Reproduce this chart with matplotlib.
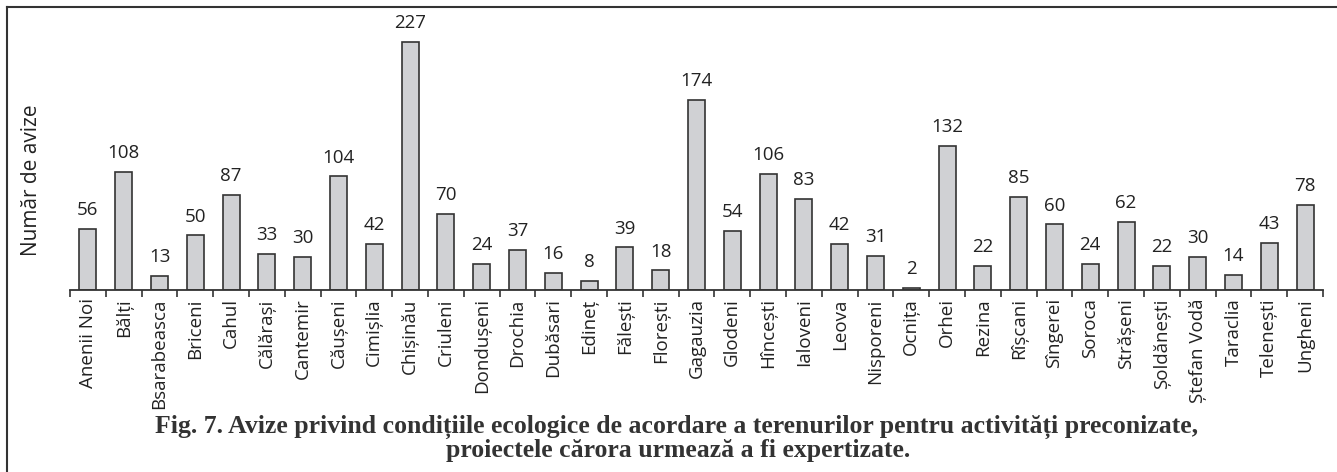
import matplotlib
matplotlib.use("Agg")
import matplotlib.pyplot as plt
from matplotlib.lines import Line2D
import numpy as np

categories = ["Anenii Noi", "Bălți", "Bsarabeasca", "Briceni", "Cahul", "Călărași",
              "Cantemir", "Căușeni", "Cimișlia", "Chișinău", "Criuleni", "Dondușeni",
              "Drochia", "Dubăsari", "Edineț", "Fălești", "Florești", "Gagauzia",
              "Glodeni", "Hîncești", "Ialoveni", "Leova", "Nisporeni", "Ocnița",
              "Orhei", "Rezina", "Rîșcani", "Sîngerei", "Soroca", "Strășeni",
              "Șoldănești", "Ștefan Vodă", "Taraclia", "Telenești", "Ungheni"]
values = [56, 108, 13, 50, 87, 33, 30, 104, 42, 227, 70, 24, 37, 16, 8, 39, 18, 174,
          54, 106, 83, 42, 31, 2, 132, 22, 85, 60, 24, 62, 22, 30, 14, 43, 78]

ylabel = "Număr de avize"
caption1 = "Fig. 7. Avize privind condițiile ecologice de acordare a terenurilor pentru activități preconizate,"
caption2 = "proiectele cărora urmează a fi expertizate."

W, H = 1337, 472
fig = plt.figure(figsize=(W / 100, H / 100), dpi=100)

n = len(categories)
left_px, right_px = 70, 1323
base_px = 290
top_val = 250
px_per_unit = (290 - 42) / 227.0
top_px = base_px - top_val * px_per_unit
ax = fig.add_axes([left_px / W, 1 - base_px / H, (right_px - left_px) / W, (base_px - top_px) / H])

x = np.arange(n)
ax.bar(x, values, width=0.48, color="#d0d1d4", edgecolor="#333333", linewidth=1.2)
ax.set_xlim(-0.5, n - 0.5)
ax.set_ylim(0, top_val)

for xi, v in zip(x, values):
    ax.text(xi, v + 9, str(v), ha="center", va="bottom", fontsize=13.5,
            family="Open Sans", color="#222222")

for s in ["top", "right", "left"]:
    ax.spines[s].set_visible(False)
ax.spines["bottom"].set_color("#333333")
ax.spines["bottom"].set_linewidth(1.3)
ax.set_yticks([])

ax.set_xticks(np.arange(-0.5, n, 1.0), minor=False)
ax.set_xticklabels([])
ax.tick_params(axis="x", which="major", direction="out", length=5, width=1.2, color="#333333")
ax.set_xticks(x, minor=True)
ax.set_xticklabels(categories, minor=True, rotation=90, fontsize=13.5,
                   family="Open Sans", color="#222222")
ax.tick_params(axis="x", which="minor", length=0, pad=6)

fig.text(32 / W, 1 - 180 / H, ylabel, rotation=90, ha="center", va="center",
         fontsize=15, family="Open Sans", color="#222222")

fig.text(677 / W, 1 - 427 / H, caption1, ha="center", va="center",
         fontsize=18.5, family="Liberation Serif", fontweight="bold", color="#333333")
fig.text(678 / W, 1 - 450 / H, caption2, ha="center", va="center",
         fontsize=18.5, family="Liberation Serif", fontweight="bold", color="#333333")

fig.add_artist(Line2D([7 / W, 7 / W], [0, 1 - 7 / H], transform=fig.transFigure,
                      color="#333333", linewidth=1.5))
fig.add_artist(Line2D([7 / W, 1], [1 - 7 / H, 1 - 7 / H], transform=fig.transFigure,
                      color="#333333", linewidth=1.5))

fig.savefig("out.png", dpi=100)
